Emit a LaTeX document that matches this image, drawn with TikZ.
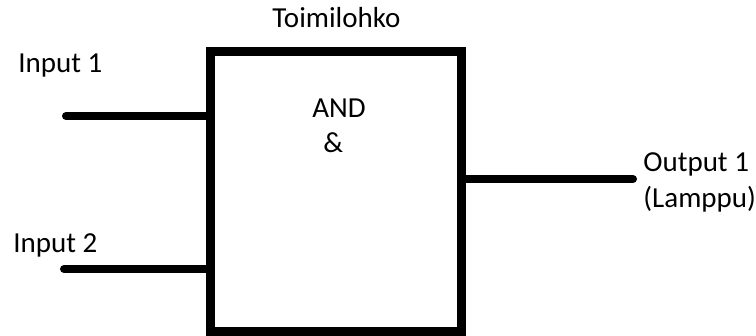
\documentclass[tikz,border=0pt]{standalone}
\usepackage{fontspec}
\setmainfont{Carlito}
\begin{document}
\begin{tikzpicture}[x=0.5pt, y=-0.5pt, font=\fontsize{14.5}{18}\selectfont]
    \tikzset{johto/.style={line width=4pt, line cap=round},
             teksti/.style={anchor=base west, inner sep=0pt}}
    \useasboundingbox (0,0) rectangle (756,336);
    \node[draw, line width=4.5pt, minimum width=125.5pt, minimum height=140.25pt, inner sep=0pt] (lohko) at (336,191.75) {};
    \coordinate (in1) at (66,116);
    \coordinate (in2) at (64,269);
    \coordinate (out1) at (633,179);
    \draw[johto] (in1) -- (lohko.west |- in1);
    \draw[johto] (in2) -- (lohko.west |- in2);
    \draw[johto] (lohko.east |- out1) -- (out1);
    \node[teksti] (otsikko) at (272,28) {Toimilohko};
    \node[teksti] (tulo1) at (18,73) {Input 1};
    \node[teksti] (tulo2) at (13,253) {Input 2};
    \node[teksti] (and) at (312,118) {AND};
    \node[teksti] (et) at (323,153) {\&};
    \node[teksti, align=left] (lahto) at (643,208) {Output 1\\(Lamppu)};
\end{tikzpicture}
\end{document}
